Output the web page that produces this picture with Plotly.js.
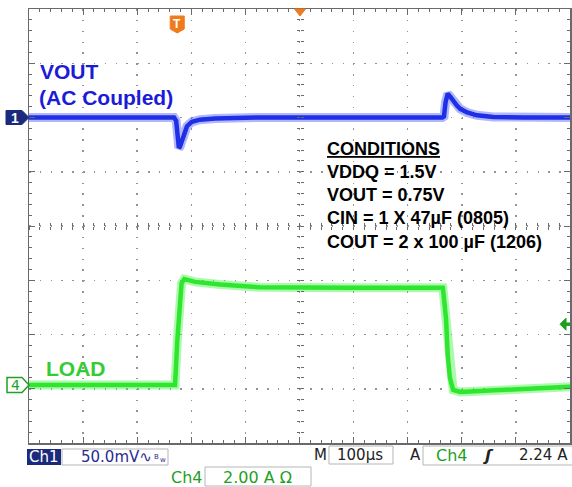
<!DOCTYPE html>
<html>
<head>
<meta charset="utf-8">
<script src="https://cdn.plot.ly/plotly-3.0.1.min.js"></script>
<style>html,body{margin:0;padding:0;background:#fff;}#chart{width:572px;height:487px;}</style>
</head>
<body>
<div id="chart"></div>
<script>
// ---- Data (read from the scope capture) ----
// Ch1: VOUT, AC coupled, 50 mV/div ; time in µs relative to trigger
const vout_t  = [-274, -6, -2, 1, 3, 5, 7, 11, 18, 27, 42, 70, 98, 150, 490, 493, 496, 500, 505, 510, 517, 523, 536, 554, 584, 640, 726];
const vout_mV = [0, 0, -3, -18, -28, -27, -24, -17, -8, -4, -2, -1, -0.5, 0, 0, 1, 14, 22, 19, 15, 11, 8, 4.6, 2, 0.5, 0, 0];
// Ch4: LOAD current, 2 A/div
const load_t = [-274, -5, -4, 0, 4, 8, 13, 33, 79, 153, 319, 491, 494, 497, 500, 504, 510, 523, 560, 634, 726];
const load_A = [0, 0, 0, 1.6, 3.0, 3.75, 3.9, 3.8, 3.7, 3.6, 3.58, 3.58, 3.0, 2.4, 1.1, 0.26, -0.18, -0.26, -0.22, -0.15, -0.07];

const ch1_scale = 50;   // mV/div
const ch1_offset = 2;   // div
const ch4_scale = 2;    // A/div
const ch4_offset = -2.93; // div
const trig_level = 2.24; // A

const conditions = ["VDDQ = 1.5V", "VOUT = 0.75V", "CIN = 1 X 47µF (0805)", "COUT = 2 x 100 µF (1206)"];

// ---- helpers for placing decorations (pixel -> paper) ----
const X0 = 29, X1 = 570, Y0 = 9, Y1 = 443;
const px = x => (x - X0) / (X1 - X0);
const py = y => (Y1 - y) / (Y1 - Y0);
const path = pts => 'M' + pts.map(p => p[0] + ',' + p[1]).join('L') + 'Z';

const vDiv = vout_mV.map(v => ch1_offset + v / ch1_scale);
const lDiv = load_A.map(a => ch4_offset + a / ch4_scale);

const traces = [
  {x: vout_t, y: vDiv, mode: 'lines', line: {color: 'rgba(60,75,245,0.4)', width: 9}, hoverinfo: 'skip'},
  {x: vout_t, y: vDiv, mode: 'lines', line: {color: '#1f2fe6', width: 4.5}, hoverinfo: 'skip'},
  {x: load_t, y: lDiv, mode: 'lines', line: {color: 'rgba(60,240,60,0.42)', width: 9}, hoverinfo: 'skip'},
  {x: load_t, y: lDiv, mode: 'lines', line: {color: '#2fe62f', width: 4.5}, hoverinfo: 'skip'},
  {x: [], y: [], xaxis: 'x2', yaxis: 'y2'},
  {x: [], y: [], xaxis: 'x3', yaxis: 'y3'}
];

const gridCol = '#8c8c8c', lineCol = '#6a6a6a';
const xr = [-274, 726], yr = [-4, 4];
const centerX = (o, dir) => ({overlaying: 'x', anchor: 'free', position: 0.5, range: xr, tickmode: 'linear', tick0: -274, dtick: 20,
  ticks: dir, ticklen: 3, tickcolor: lineCol, showticklabels: false, showgrid: false, showline: false, zeroline: false, fixedrange: true});
const centerY = (o, dir) => ({overlaying: 'y', anchor: 'free', position: 0.5, range: yr, tickmode: 'linear', tick0: -4, dtick: 0.2,
  ticks: dir, ticklen: 3, tickcolor: lineCol, showticklabels: false, showgrid: false, showline: false, zeroline: false, fixedrange: true});

const F = 'Arial, "Liberation Sans", sans-serif';
const FS = '"DejaVu Sans", Verdana, sans-serif';

const ann = [];
function A(x, y, text, size, color, family, extra) {
  ann.push(Object.assign({xref: 'paper', yref: 'paper', x: px(x), y: py(y), text: text, showarrow: false,
    xanchor: 'left', yanchor: 'middle', font: {family: family || F, size: size, color: color}}, extra || {}));
}
A(38, 71, '<b>VOUT</b>', 21, '#1b1bd8');
A(37, 97, '<b>(AC Coupled)</b>', 21, '#1b1bd8');
A(44, 368, '<b>LOAD</b>', 21, '#33cc33');
A(325, 148.5, '<b><u>CONDITIONS</u></b>', 18, '#000');
conditions.forEach((c, i) => A(325, 172 + i * 23.2, '<b>' + c + '</b>', 18, '#000'));

// bottom status bar
A(44, 457, 'Ch1', 15, '#fff', FS, {xanchor: 'center'});
A(79, 457, '50.0mV∿', 15, '#2b2b90', FS);
A(152, 457, 'B', 7, '#2b2b90', FS);
A(158, 460, 'w', 7, '#2b2b90', FS);
A(169, 477, 'Ch4', 16, '#1f9f1f', FS);
A(221, 477, '2.00 A Ω', 16, '#1f9f1f', FS);
A(312, 455, 'M', 15, '#222', FS);
A(335, 455, '100µs', 15, '#222', FS);
A(408, 455, 'A', 15, '#222', FS);
A(434, 455, 'Ch4', 16, '#1f9f1f', FS);
A(480, 455, '<b><i>ʃ</i></b>', 16, '#222', FS);
A(517, 455, '2.24 A', 15, '#222', FS);
// channel markers text
ann.push({xref: 'paper', yref: 'y', x: px(15), y: ch1_offset, text: '<b>1</b>', showarrow: false, xanchor: 'center', yanchor: 'middle', font: {family: F, size: 14, color: '#fff'}});
ann.push({xref: 'paper', yref: 'y', x: px(15.5), y: ch4_offset, text: '4', showarrow: false, xanchor: 'center', yanchor: 'middle', font: {family: FS, size: 14, color: '#22a022'}});
ann.push({xref: 'x', yref: 'paper', x: 0, y: py(24), text: '<b>T</b>', showarrow: false, xanchor: 'center', yanchor: 'middle', font: {family: F, size: 12, color: '#fff'}});

const dv = 1 / 54.25; // one pixel in divisions (vertical)
const tp = 100 / 54.1; // one pixel in µs
const shapes = [
  // status bar boxes
  {type: 'rect', xref: 'paper', yref: 'paper', x0: px(27), x1: px(61), y0: py(465), y1: py(449), fillcolor: '#1b2a7c', line: {width: 0}},
  {type: 'rect', xref: 'paper', yref: 'paper', x0: px(62), x1: px(168), y0: py(465), y1: py(449), line: {color: '#b5b5b5', width: 1}},
  {type: 'rect', xref: 'paper', yref: 'paper', x0: px(205), x1: px(311), y0: py(486), y1: py(467), line: {color: '#b5b5b5', width: 1}},
  {type: 'rect', xref: 'paper', yref: 'paper', x0: px(329), x1: px(393), y0: py(464), y1: py(446), line: {color: '#b5b5b5', width: 1}},
  {type: 'rect', xref: 'paper', yref: 'paper', x0: px(423), x1: px(590), y0: py(465), y1: py(446), line: {color: '#b5b5b5', width: 1}},
  // ch1 ground marker
  {type: 'path', xref: 'paper', yref: 'y', fillcolor: '#1b2a7c', line: {color: '#1b2a7c', width: 1},
   path: path([[px(6), ch1_offset + 7 * dv], [px(22), ch1_offset + 7 * dv], [px(29), ch1_offset], [px(22), ch1_offset - 7 * dv], [px(6), ch1_offset - 7 * dv]])},
  // ch4 ground marker
  {type: 'path', xref: 'paper', yref: 'y', fillcolor: '#fff', line: {color: '#22a022', width: 1.5},
   path: path([[px(7), ch4_offset + 7.5 * dv], [px(22), ch4_offset + 7.5 * dv], [px(29), ch4_offset], [px(22), ch4_offset - 7.5 * dv], [px(7), ch4_offset - 7.5 * dv]])},
  // trigger time marker "T"
  {type: 'path', xref: 'x', yref: 'paper', fillcolor: '#f07b1c', line: {color: '#f07b1c', width: 1},
   path: path([[-7 * tp, py(16)], [7 * tp, py(16)], [7 * tp, py(29)], [0, py(33)], [-7 * tp, py(29)]])},
  // horizontal position marker
  {type: 'path', xref: 'paper', yref: 'paper', fillcolor: '#f07b1c', line: {color: '#f07b1c', width: 1},
   path: path([[px(294.5), py(9)], [px(305.5), py(9)], [px(300), py(16)]])},
  // trigger level arrow
  {type: 'path', xref: 'paper', yref: 'y', fillcolor: '#1f9e1f', line: {color: '#1f9e1f', width: 1},
   path: path([[px(560), ch4_offset + trig_level / ch4_scale], [px(566), ch4_offset + trig_level / ch4_scale + 6 * dv], [px(566), ch4_offset + trig_level / ch4_scale + 1.2 * dv],
               [px(570), ch4_offset + trig_level / ch4_scale + 1.2 * dv], [px(570), ch4_offset + trig_level / ch4_scale - 1.2 * dv], [px(566), ch4_offset + trig_level / ch4_scale - 1.2 * dv],
               [px(566), ch4_offset + trig_level / ch4_scale - 6 * dv]])}
];

const layout = {
  width: 572, height: 487,
  margin: {l: X0, r: 572 - X1, t: Y0, b: 487 - Y1, pad: 0},
  paper_bgcolor: '#fff', plot_bgcolor: '#fff', showlegend: false,
  xaxis: {range: xr, tickmode: 'linear', tick0: -274, dtick: 100, showticklabels: false,
    showgrid: true, gridcolor: '#949494', gridwidth: 1.5, griddash: '1.5px,9.35px',
    ticks: 'inside', ticklen: 6, tickcolor: lineCol, showline: true, linecolor: lineCol, linewidth: 1.5, mirror: 'allticks',
    minor: {tickmode: 'linear', tick0: -274, dtick: 20, ticks: 'inside', ticklen: 3, tickcolor: lineCol, showgrid: false},
    zeroline: false, fixedrange: true},
  yaxis: {range: yr, tickmode: 'linear', tick0: -4, dtick: 1, showticklabels: false,
    showgrid: true, gridcolor: '#949494', gridwidth: 1.5, griddash: '1.5px,9.32px',
    ticks: 'inside', ticklen: 6, tickcolor: lineCol, showline: true, linecolor: lineCol, linewidth: 1.5, mirror: 'allticks',
    minor: {tickmode: 'linear', tick0: -4, dtick: 0.2, ticks: 'inside', ticklen: 3, tickcolor: lineCol, showgrid: false},
    zeroline: false, fixedrange: true},
  xaxis2: centerX(0, 'outside'),
  xaxis3: centerX(0, 'inside'),
  yaxis2: centerY(0, 'outside'),
  yaxis3: centerY(0, 'inside'),
  annotations: ann,
  shapes: shapes
};

Plotly.newPlot('chart', traces, layout, {staticPlot: true, displayModeBar: false});
</script>
</body>
</html>
